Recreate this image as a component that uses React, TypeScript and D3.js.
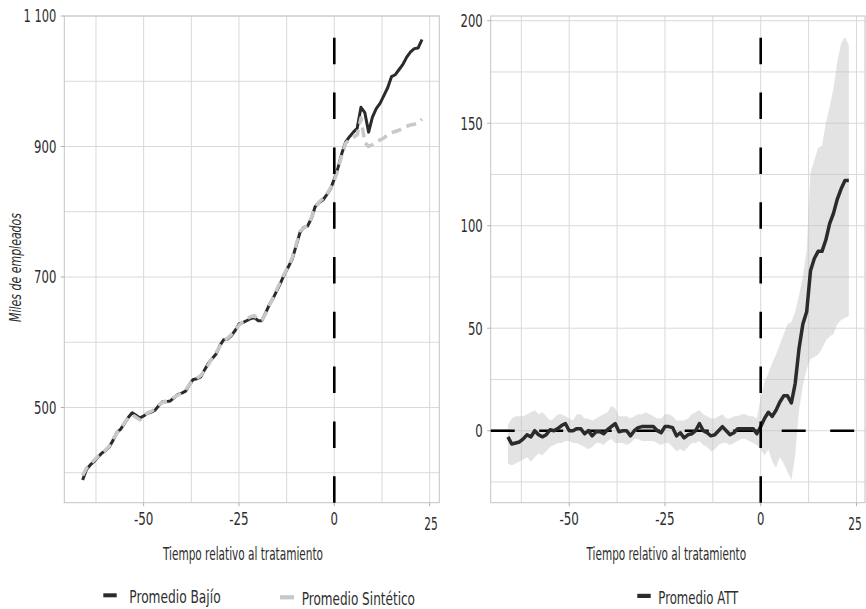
import React from "react";
import * as d3 from "d3";

// ---------- DATA ----------
const startPeriod = -66;
const periods = d3.range(startPeriod, 24);

const bajio = [
  389, 405, 412, 417, 424, 430, 434, 440, 450, 462, 467, 476, 485, 492, 488, 484, 487, 491, 493, 496,
  503, 509, 509, 510, 515, 520, 522, 525, 535, 543, 544, 547, 558, 568, 575, 582, 595, 604, 605, 610,
  618, 628, 630, 633, 636, 638, 633, 633, 645, 658, 668, 680, 692, 705, 716, 728, 748, 768, 776, 778,
  790, 808, 814, 818, 826, 835, 850, 868, 890, 907, 915, 922, 928, 960, 952, 922, 945, 958, 966, 978,
  990, 1007, 1010, 1018, 1026, 1037, 1045, 1050, 1051, 1064,
];

const sintetico = [
  396, 407, 413, 419, 425, 429, 435, 441, 452, 461, 468, 477, 484, 489, 485, 481, 486, 492, 494, 498,
  504, 508, 510, 512, 516, 519, 523, 527, 535, 541, 545, 549, 557, 566, 576, 584, 594, 602, 606, 612,
  619, 626, 631, 636, 639, 641, 635, 634, 644, 657, 669, 682, 694, 706, 717, 730, 750, 770, 775, 779,
  791, 806, 815, 820, 827, 836, 848, 865, 888, 905, 911, 914, 918, 944, 906, 900, 903, 907, 910, 913,
  918, 921, 923, 925, 929, 931, 933, 934, 936, 942,
];

const att = [
  -3, -6.5, -6, -5.5, -4, -2, -3, 0, -2, -3, -2, 0.5, 0, 1, 2.5, 3.5, 0, 0, 1, 1,
  -1.5, 0, -2.5, -0.5, -0.5, -1.5, 0.5, 2, 3.5, -0.5, 0, 0, -2.5, 0, 1.5, 2, 2, 2, 2, 0,
  -1, 2, 2, 1.5, -2.5, -1, -3.5, -2, -1.5, 0, 3.5, 0, -1, -2.5, -2, 0, 2, 0, -2, -1,
  1, 1, 1, 1, 1, -1.5, 2, 6, 9, 7, 10, 14, 17, 17, 13.5, 23, 40, 52, 58, 78,
  84, 87.5, 87.5, 93, 101, 106, 113, 118, 122, 122,
];

const attUpper = [
  3, 6, 7, 7, 7, 8, 9, 10, 8, 9, 7, 5, 6, 8, 8, 7, 6, 5, 8, 8,
  6, 6, 5, 6, 7, 8, 9, 12, 11, 7, 7, 7, 6, 7, 8, 8, 9, 8, 7, 6,
  6, 8, 8, 7, 5, 5, 5, 6, 8, 9, 10, 8, 7, 6, 6, 7, 8, 6, 6, 7,
  7, 8, 8, 7, 7, 6, 16, 24, 28, 33, 37, 42, 47, 52, 53, 58, 66, 75, 88, 126,
  132, 138, 139, 150, 158, 167, 180, 189, 192, 188,
];

const attLower = [
  -16, -17, -16, -15, -14, -13, -15, -13, -11, -12, -10, -8, -7, -6, -6, -5, -5, -6, -6, -7,
  -8, -9, -8, -6, -6, -7, -5, -4, -6, -6, -6, -7, -6, -4, -4, -5, -5, -5, -5, -6,
  -7, -6, -6, -8, -10, -9, -10, -8, -6, -6, -5, -7, -8, -10, -9, -7, -6, -6, -7, -6,
  -5, -4, -4, -5, -6, -7, -9, -12, -9, -15, -18, -13, -16, -20, -24, -12, 10, 22, 30, 35,
  36, 37, 40, 44, 46, 47, 52, 54, 55, 56,
];

const leftYMajor = [500, 700, 900, 1100];
const leftYMinor = [400, 600, 800, 1000];
const leftYLabels = ["500", "700", "900", "1 100"];
const rightYMajor = [0, 50, 100, 150, 200];
const rightYMinor = [-25, 25, 75, 125, 175];
const xMajor = [-50, -25, 0, 25];
const xMinor = [-62.5, -37.5, -12.5, 12.5];

const xTitle = "Tiempo relativo al tratamiento";
const yTitle = "Miles de empleados";
const legendLeft = ["Promedio Bajío", "Promedio Sintético"];
const legendRight = ["Promedio ATT"];

// ---------- STYLE ----------
const FONT = "'Liberation Sans Narrow', 'DejaVu Sans Condensed', 'Roboto Condensed', sans-serif";
const TXT = "#2e2e2e";
const GRID = "#d9d9d9";
const DARK = "#2b2b2b";
const LIGHT = "#c8c8c8";

function labelWidth(s: string) {
  let w = 0;
  for (const c of s) {
    if (c === "-") w += 4.6;
    else if (c === " ") w += 3.2;
    else w += 7.4;
  }
  return w;
}

function T(props: {
  x: number; y: number; text: string; size: number; width?: number;
  anchor?: string; transform?: string; italic?: boolean;
}) {
  const { x, y, text, size, width, anchor = "start", transform, italic } = props;
  return (
    <text
      x={x}
      y={y}
      fontSize={size}
      fontFamily={FONT}
      fill={TXT}
      textAnchor={anchor}
      transform={transform}
      fontStyle={italic ? "italic" : "normal"}
      textLength={width}
      lengthAdjust="spacingAndGlyphs"
    >
      {text}
    </text>
  );
}

export default function App() {
  // left panel
  const L = { x0: 64.3, x1: 439.3, y0: 16, y1: 502.7 };
  const lx = d3.scaleLinear().domain([-70.81, 27.54]).range([L.x0, L.x1]);
  const ly = d3.scaleLinear().domain([354.1, 1100]).range([L.y1, L.y0]);
  // right panel
  const R = { x0: 490.7, x1: 865, y0: 16, y1: 502.7 };
  const rx = d3.scaleLinear().domain([-70.5, 27.23]).range([R.x0, R.x1]);
  const ry = d3.scaleLinear().domain([-35.12, 202.3]).range([R.y1, R.y0]);

  const lineL = (vals: number[]) =>
    d3.line<number>().x((_, i) => lx(periods[i])).y((d) => ly(d))(vals) || "";
  const lineR = d3.line<number>().x((_, i) => rx(periods[i])).y((d) => ry(d))(att) || "";
  const ribbon =
    d3
      .area<number>()
      .x((_, i) => rx(periods[i]))
      .y0((_, i) => ry(attLower[i]))
      .y1((_, i) => ry(attUpper[i]))(periods as any) || "";

  const grid = (
    P: typeof L,
    xs: d3.ScaleLinear<number, number>,
    ys: d3.ScaleLinear<number, number>,
    yMaj: number[],
    yMin: number[]
  ) => (
    <g>
      {[...yMin, ...yMaj].map((v, i) => (
        <line key={"h" + i} x1={P.x0} x2={P.x1} y1={ys(v)} y2={ys(v)} stroke={GRID} strokeWidth={1} />
      ))}
      {[...xMinor, ...xMajor].map((v, i) => (
        <line key={"v" + i} x1={xs(v)} x2={xs(v)} y1={P.y0} y2={P.y1} stroke={GRID} strokeWidth={1} />
      ))}
      <rect x={P.x0} y={P.y0} width={P.x1 - P.x0} height={P.y1 - P.y0} fill="none" stroke="#c4c4c4" strokeWidth={1} />
      {yMaj.map((v, i) => (
        <line key={"yt" + i} x1={P.x0 - 3.5} x2={P.x0} y1={ys(v)} y2={ys(v)} stroke="#b0b0b0" strokeWidth={1} />
      ))}
      {xMajor.map((v, i) => (
        <line key={"xt" + i} x1={xs(v)} x2={xs(v)} y1={P.y1} y2={P.y1 + 3.5} stroke="#b0b0b0" strokeWidth={1} />
      ))}
    </g>
  );

  const xLabels = (xs: d3.ScaleLinear<number, number>, P: typeof L, lastShift: number) =>
    xMajor.map((v, i) => {
      const s = String(v);
      const last = i === xMajor.length - 1;
      return (
        <T
          key={"xl" + i}
          x={xs(v) + (last ? lastShift : 0)}
          y={P.y1 + 22.5 + (last ? 4.5 : 0)}
          text={s}
          size={17}
          width={last ? 13.5 : labelWidth(s)}
          anchor="middle"
        />
      );
    });

  return (
    <svg
      width={866}
      height={609}
      style={{ position: "absolute", left: 0, top: 0, background: "#ffffff" }}
    >
      <rect x={0} y={0} width={866} height={609} fill="#ffffff" />

      {/* LEFT PANEL */}
      {grid(L, lx, ly, leftYMajor, leftYMinor)}
      <path d={lineL(bajio)} fill="none" stroke={DARK} strokeWidth={3} strokeLinejoin="round" />
      <path
        d={lineL(sintetico)}
        fill="none"
        stroke={LIGHT}
        strokeWidth={3.5}
        strokeDasharray="10 6"
        strokeLinejoin="round"
      />
      <line
        x1={lx(0)}
        x2={lx(0)}
        y1={L.y1}
        y2={L.y0}
        stroke="#000"
        strokeWidth={2.6}
        strokeDasharray="26.5 28.3"
      />
      {leftYMajor.map((v, i) => (
        <T
          key={"ly" + i}
          x={L.x0 - 8}
          y={ly(v) + 6.3}
          text={leftYLabels[i]}
          size={17.5}
          width={labelWidth(leftYLabels[i])}
          anchor="end"
        />
      ))}
      {xLabels(lx, L, 1.5)}
      <T x={243} y={559.5} text={xTitle} size={17} width={160} anchor="middle" />
      <T
        x={0}
        y={0}
        text={yTitle}
        size={16}
        width={109}
        anchor="middle"
        italic
        transform="translate(20.5,267.5) rotate(-90)"
      />

      {/* RIGHT PANEL */}
      {grid(R, rx, ry, rightYMajor, rightYMinor)}
      <path d={ribbon} fill="#c2c2c2" fillOpacity={0.45} stroke="none" />
      <line
        x1={R.x0}
        x2={R.x1}
        y1={ry(0)}
        y2={ry(0)}
        stroke="#000"
        strokeWidth={2.6}
        strokeDasharray="24 24.5"
      />
      <path d={lineR} fill="none" stroke={DARK} strokeWidth={3.5} strokeLinejoin="round" />
      <line
        x1={rx(0)}
        x2={rx(0)}
        y1={R.y1}
        y2={R.y0}
        stroke="#000"
        strokeWidth={2.6}
        strokeDasharray="26.5 28.3"
      />
      {rightYMajor.map((v, i) => (
        <T
          key={"ry" + i}
          x={R.x0 - 8}
          y={ry(v) + 6.3}
          text={String(v)}
          size={17.5}
          width={labelWidth(String(v))}
          anchor="end"
        />
      ))}
      {xLabels(rx, R, -1.5)}
      <T x={666.3} y={559.5} text={xTitle} size={17} width={159.5} anchor="middle" />

      {/* LEGENDS */}
      <rect x={103.3} y={593.3} width={13.4} height={4} fill={DARK} />
      <T x={129.3} y={602.5} text={legendLeft[0]} size={18} width={91.3} />
      <rect x={280} y={595.2} width={14} height={4.2} fill={LIGHT} />
      <T x={301.7} y={604.8} text={legendLeft[1]} size={18} width={113.3} />
      <rect x={637.3} y={593.8} width={13.4} height={4.2} fill={DARK} />
      <T x={658.3} y={604.3} text={legendRight[0]} size={18} width={80} />
    </svg>
  );
}
